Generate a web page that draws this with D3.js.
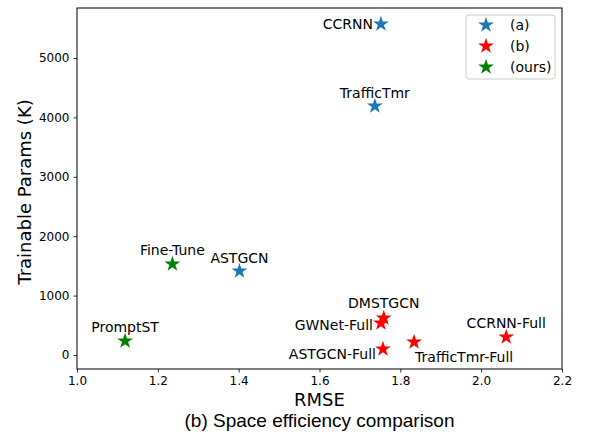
<!DOCTYPE html>
<html>
<head>
<meta charset="utf-8">
<script src="https://cdn.jsdelivr.net/npm/d3@7"></script>
<style>
  body { margin: 0; background: #fff; }
  svg text { font-family: "DejaVu Sans", sans-serif; fill: #000; }
</style>
</head>
<body>
<div id="chart"></div>
<script>
// data
var models = ["CCRNN", "TrafficTmr", "ASTGCN", "DMSTGCN", "GWNet-Full", "ASTGCN-Full", "TrafficTmr-Full", "CCRNN-Full", "Fine-Tune", "PromptST"];
var groups = ["(a)", "(a)", "(a)", "(b)", "(b)", "(b)", "(b)", "(b)", "(ours)", "(ours)"];
var rmse   = [1.752, 1.737, 1.402, 1.759, 1.752, 1.757, 1.834, 2.062, 1.236, 1.119];
var params = [5572, 4192, 1414, 623, 539, 101, 219, 303, 1532, 236];

var legendNames = ["(a)", "(b)", "(ours)"];
var xTicks = [1.0, 1.2, 1.4, 1.6, 1.8, 2.0, 2.2];
var yTicks = [0, 1000, 2000, 3000, 4000, 5000];

// label placement: anchor + pixel offset from the marker
var labelPos = {
  "CCRNN":           ["end",    -8,   5],
  "TrafficTmr":      ["middle",  0,  -8],
  "ASTGCN":          ["middle",  0,  -8],
  "DMSTGCN":         ["middle",  0, -10],
  "GWNet-Full":      ["end",    -8,   7],
  "ASTGCN-Full":     ["end",    -7,  10],
  "TrafficTmr-Full": ["start",   1,  20],
  "CCRNN-Full":      ["middle",  0,  -9],
  "Fine-Tune":       ["middle",  0,  -9],
  "PromptST":        ["middle",  0,  -9]
};

var colors = {"(a)": "#1f77b4", "(b)": "#ff0000", "(ours)": "#008000"};

var W = 590, H = 432;
var pl = 77, pr = 562, pt = 8, pb = 369;

var svg = d3.select("#chart").append("svg")
            .attr("width", W)
            .attr("height", H);

var x = d3.scaleLinear().domain([1.0, 2.2]).range([pl, pr]);
var y = d3.scaleLinear().domain([-236, 5842]).range([pb, pt]);

// axes
svg.append("g")
   .attr("transform", "translate(0," + pb + ")")
   .call(d3.axisBottom(x).tickValues(xTicks).tickFormat(d3.format(".1f")).tickSizeOuter(0).tickSize(3.5).tickPadding(4))
   .call(g => g.select(".domain").remove())
   .selectAll("text").style("font-size", "12px").style("font-family", "DejaVu Sans");

svg.append("g")
   .attr("transform", "translate(" + pl + ",0)")
   .call(d3.axisLeft(y).tickValues(yTicks).tickFormat(d3.format("d")).tickSizeOuter(0).tickSize(3.5).tickPadding(4))
   .call(g => g.select(".domain").remove())
   .selectAll("text").style("font-size", "12px").style("font-family", "DejaVu Sans");

svg.selectAll(".tick line").attr("stroke", "#000").attr("stroke-width", 0.8);

// frame
svg.append("rect")
   .attr("x", pl).attr("y", pt)
   .attr("width", pr - pl).attr("height", pb - pt)
   .attr("fill", "none").attr("stroke", "#000").attr("stroke-width", 1);

var star = d3.symbol().type(d3.symbolStar).size(78);

var idx = d3.range(models.length);

svg.selectAll(".pt").data(idx).enter().append("path")
   .attr("class", "pt")
   .attr("d", star)
   .attr("transform", i => "translate(" + x(rmse[i]) + "," + y(params[i]) + ")")
   .attr("fill", i => colors[groups[i]]);

svg.selectAll(".lbl").data(idx).enter().append("text")
   .attr("class", "lbl")
   .attr("x", i => x(rmse[i]) + labelPos[models[i]][1])
   .attr("y", i => y(params[i]) + labelPos[models[i]][2])
   .attr("text-anchor", i => labelPos[models[i]][0])
   .style("font-size", "14px")
   .text(i => models[i]);

// axis titles
svg.append("text")
   .attr("x", (pl + pr) / 2).attr("y", 406)
   .attr("text-anchor", "middle")
   .style("font-size", "18px")
   .text("RMSE");

svg.append("text")
   .attr("transform", "translate(31,192) rotate(-90)")
   .attr("text-anchor", "middle")
   .style("font-size", "18px")
   .text("Trainable Params (K)");

svg.append("text")
   .attr("x", (pl + pr) / 2).attr("y", 427)
   .attr("text-anchor", "middle")
   .style("font-size", "19px")
   .style("font-family", "Liberation Sans, Arial, sans-serif")
   .text("(b) Space efficiency comparison");

// legend
var lg = svg.append("g").attr("transform", "translate(466,15)");
lg.append("rect")
  .attr("width", 89).attr("height", 64).attr("rx", 3)
  .attr("fill", "#fff").attr("fill-opacity", 0.8)
  .attr("stroke", "#cccccc").attr("stroke-width", 1);

legendNames.forEach(function(name, k) {
  lg.append("path")
    .attr("d", star)
    .attr("transform", "translate(20," + (10 + k * 21) + ")")
    .attr("fill", colors[name]);
  lg.append("text")
    .attr("x", 44).attr("y", 15 + k * 21)
    .style("font-size", "14px")
    .text(name);
});
</script>
</body>
</html>
